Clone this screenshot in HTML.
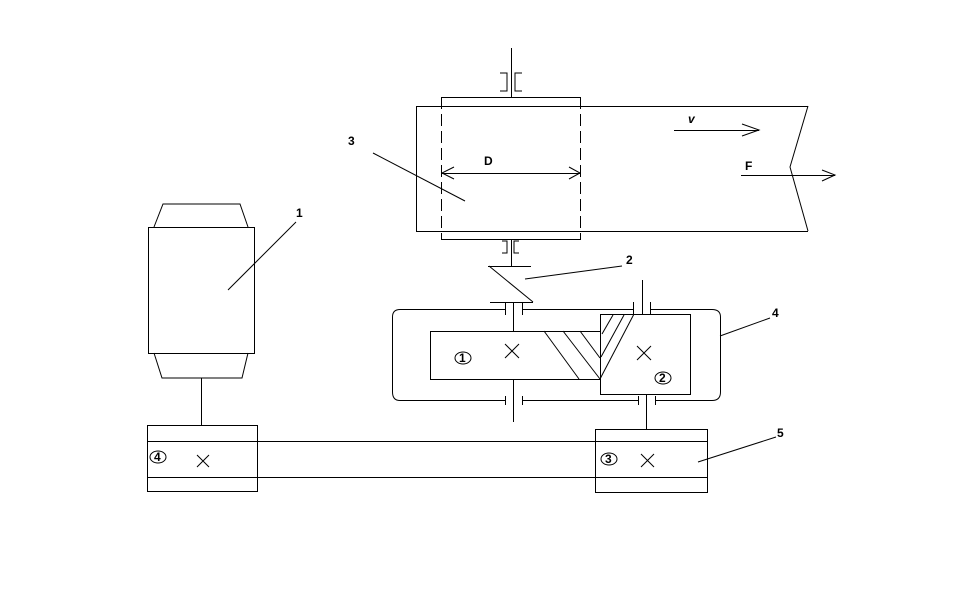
<!DOCTYPE html>
<html><head><meta charset="utf-8"><style>body{margin:0;background:#fff}svg{display:block}text{font-family:"Liberation Sans",sans-serif;font-size:12px;font-weight:bold;fill:#000}</style></head><body>
<svg width="954" height="609" viewBox="0 0 954 609" xmlns="http://www.w3.org/2000/svg" fill="none" stroke="#000" stroke-width="1">
<rect width="954" height="609" fill="#fff" stroke="none"/>
<rect x="148.5" y="227.5" width="106" height="126"/>
<polyline points="154,227 163,204 240,204 248,227"/>
<polyline points="154,353 162,378 242,378 248,353"/>
<line x1="201.5" y1="378" x2="201.5" y2="425"/>
<rect x="147.5" y="425.5" width="110" height="66"/>
<line x1="147" y1="441.5" x2="595" y2="441.5"/>
<line x1="147" y1="477.5" x2="595" y2="477.5"/>
<rect x="595.5" y="429.5" width="112" height="63"/>
<line x1="595" y1="441.5" x2="707" y2="441.5"/>
<line x1="595" y1="477.5" x2="707" y2="477.5"/>
<line x1="646.5" y1="395" x2="646.5" y2="429"/>
<path d="M400 309.5 H505 M523 309.5 H633 M650 309.5 H712 Q720.5 309.5 720.5 317 V392 Q720.5 400.5 712 400.5 H655 M638 400.5 H523 M505 400.5 H400 Q392.5 400.5 392.5 392 V317 Q392.5 309.5 400 309.5"/>
<line x1="505.5" y1="302" x2="505.5" y2="315"/><line x1="522.5" y1="302" x2="522.5" y2="315"/>
<line x1="505.5" y1="396" x2="505.5" y2="405"/><line x1="522.5" y1="396" x2="522.5" y2="405"/>
<line x1="633.5" y1="302" x2="633.5" y2="315"/><line x1="650.5" y1="302" x2="650.5" y2="315"/>
<line x1="638.5" y1="396" x2="638.5" y2="405"/><line x1="655.5" y1="396" x2="655.5" y2="405"/>
<line x1="513.5" y1="302" x2="513.5" y2="331"/><line x1="513.5" y1="379" x2="513.5" y2="422"/>
<line x1="642.5" y1="280" x2="642.5" y2="314"/>
<rect x="430.5" y="331.5" width="170" height="48"/>
<rect x="600.5" y="314.5" width="90" height="80"/>
<line x1="544" y1="331" x2="579" y2="379"/><line x1="563" y1="331" x2="600" y2="379"/><line x1="580" y1="331" x2="600" y2="358"/>
<line x1="600" y1="379" x2="634" y2="314"/><line x1="601" y1="357" x2="624" y2="315"/><line x1="602" y1="334" x2="613" y2="315"/>
<line x1="488" y1="266.5" x2="531" y2="266.5"/>
<line x1="489" y1="266" x2="533" y2="302"/>
<line x1="490" y1="302.5" x2="533" y2="302.5"/>
<line x1="511.5" y1="239" x2="511.5" y2="266"/>
<polyline points="502,241 507,241 507,253 502,253"/><polyline points="519,241 514,241 514,253 519,253"/>
<polyline points="808,106.5 416.5,106.5 416.5,231.5 808,231.5"/>
<polyline points="808,106 790,167 808,231"/>
<line x1="441" y1="97.5" x2="580" y2="97.5"/><line x1="441" y1="239.5" x2="580" y2="239.5"/>
<line x1="441.5" y1="97" x2="441.5" y2="240" stroke-dasharray="12,5"/>
<line x1="580.5" y1="97" x2="580.5" y2="240" stroke-dasharray="12,5"/>
<line x1="511.5" y1="48" x2="511.5" y2="97"/>
<polyline points="500,73 507,73 507,91 500,91"/><polyline points="522,73 515,73 515,91 522,91"/>
<line x1="441" y1="173.5" x2="581" y2="173.5"/>
<polyline points="454,167 442,173 454,179"/><polyline points="569,167 580,173 569,179"/>
<line x1="674" y1="130.5" x2="759" y2="130.5"/><polyline points="742,124 759,130 742,136"/>
<line x1="741" y1="175.5" x2="835" y2="175.5"/><polyline points="822,170 835,175 822,181"/>
<line x1="373" y1="153" x2="465" y2="201"/>
<line x1="296" y1="222" x2="228" y2="290"/>
<line x1="525" y1="279" x2="622" y2="266"/>
<line x1="720" y1="336" x2="770" y2="318"/>
<line x1="698" y1="462" x2="776" y2="437"/>
<path d="M505 344 L519 358 M519 344 L505 358"/>
<path d="M637 346 L651 360 M651 346 L637 360"/>
<path d="M641 454 L654 467 M654 454 L641 467"/>
<path d="M197 455 L209 467 M209 455 L197 467"/>
<ellipse cx="463" cy="358" rx="8" ry="6"/>
<ellipse cx="663" cy="378" rx="8" ry="6"/>
<ellipse cx="609" cy="459" rx="8" ry="6"/>
<ellipse cx="158" cy="457" rx="8" ry="6"/>
<g stroke="none">
<text x="484" y="165">D</text>
<text x="688" y="123" font-style="italic" font-weight="normal" font-family="Liberation Serif">v</text>
<text x="745" y="170">F</text>
<text x="348" y="145">3</text>
<text x="296" y="217">1</text>
<text x="626" y="264">2</text>
<text x="772" y="317">4</text>
<text x="777" y="437">5</text>
<text x="459" y="362" font-size="11">1</text>
<text x="659" y="382" font-size="11">2</text>
<text x="605" y="463" font-size="11">3</text>
<text x="154" y="461" font-size="11">4</text>
</g>
</svg>
</body></html>
